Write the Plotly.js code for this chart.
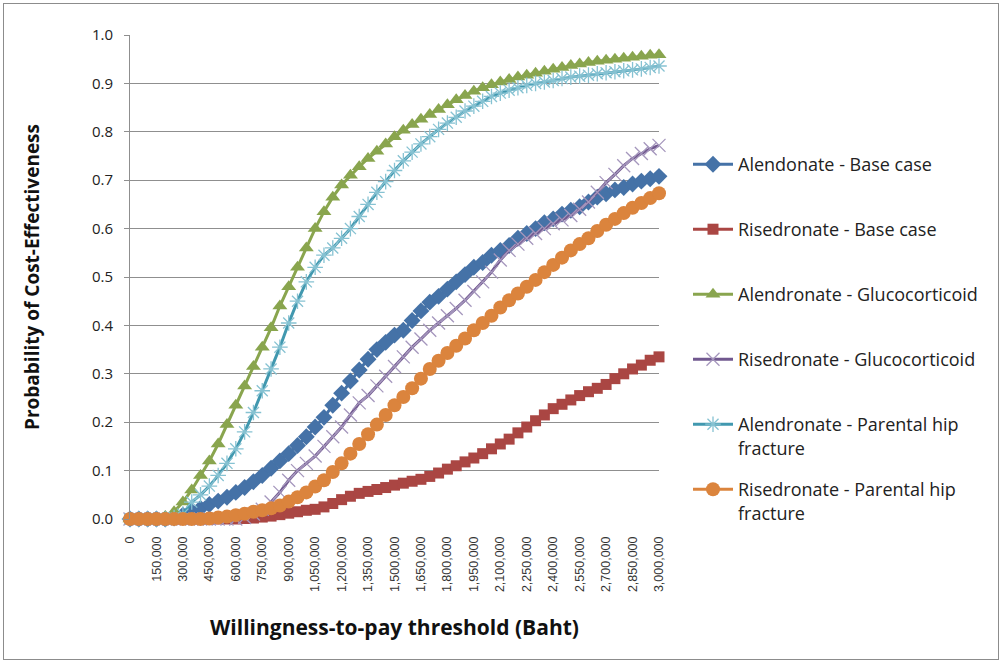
<!DOCTYPE html>
<html>
<head>
<meta charset="utf-8">
<script src="https://cdn.plot.ly/plotly-3.0.1.min.js"></script>
<style>
  body { margin: 0; background: #fff; }
  #wrap { position: relative; width: 1002px; height: 663px; }
  #chart { width: 1002px; height: 663px; }
  #frame { position: absolute; left: 3px; top: 3px; width: 994px; height: 655px; border: 1px solid #8c8c8c; pointer-events: none; }
</style>
</head>
<body>
<div id="wrap"><div id="chart"></div><div id="frame"></div></div>
<script>
// Willingness-to-pay thresholds (Baht), step 50,000
const thresholds = [];
for (let k = 0; k <= 60; k++) thresholds.push(k * 50000);

const tickValues = [0,150000,300000,450000,600000,750000,900000,1050000,1200000,1350000,1500000,1650000,1800000,1950000,2100000,2250000,2400000,2550000,2700000,2850000,3000000];
const tickLabels = ["0","150,000","300,000","450,000","600,000","750,000","900,000","1,050,000","1,200,000","1,350,000","1,500,000","1,650,000","1,800,000","1,950,000","2,100,000","2,250,000","2,400,000","2,550,000","2,700,000","2,850,000","3,000,000"];
const yTicks = [0,0.1,0.2,0.3,0.4,0.5,0.6,0.7,0.8,0.9,1.0];

const seriesNames = [
  "Alendonate - Base case",
  "Risedronate - Base case",
  "Alendronate - Glucocorticoid",
  "Risedronate - Glucocorticoid",
  "Alendronate - Parental hip<br>fracture",
  "Risedronate - Parental hip<br>fracture"
];

const alendronateBase = [0,0,0,0,0,0.002,0.008,0.015,0.022,0.03,0.037,0.045,0.055,0.065,0.077,0.09,0.105,0.12,0.135,0.152,0.17,0.19,0.21,0.235,0.26,0.285,0.308,0.33,0.35,0.365,0.38,0.39,0.41,0.43,0.448,0.46,0.475,0.49,0.505,0.52,0.53,0.545,0.555,0.565,0.58,0.59,0.6,0.612,0.62,0.63,0.638,0.645,0.655,0.665,0.672,0.68,0.685,0.692,0.698,0.703,0.708];

const risedronateBase = [0,0,0,0,0,0,0,0,0,0,0,0,0,0.001,0.002,0.004,0.006,0.009,0.012,0.015,0.018,0.02,0.025,0.032,0.04,0.047,0.053,0.057,0.061,0.065,0.07,0.074,0.078,0.082,0.088,0.095,0.103,0.11,0.118,0.126,0.135,0.145,0.155,0.165,0.178,0.19,0.203,0.215,0.228,0.237,0.246,0.255,0.263,0.27,0.278,0.29,0.3,0.31,0.318,0.328,0.335];

const alendronateGluco = [0,0,0,0,0.005,0.015,0.035,0.06,0.09,0.12,0.155,0.195,0.235,0.275,0.315,0.355,0.395,0.44,0.48,0.52,0.56,0.6,0.635,0.665,0.69,0.71,0.728,0.745,0.76,0.775,0.79,0.803,0.815,0.826,0.836,0.846,0.856,0.866,0.875,0.884,0.891,0.897,0.903,0.908,0.913,0.917,0.921,0.925,0.929,0.933,0.937,0.94,0.943,0.946,0.948,0.95,0.952,0.954,0.956,0.958,0.959];

const risedronateGluco = [0,0,0,0,0,0,0,0,0,0,0,0,0,0.003,0.01,0.02,0.035,0.055,0.08,0.1,0.115,0.13,0.15,0.17,0.19,0.215,0.24,0.255,0.275,0.295,0.315,0.335,0.355,0.372,0.39,0.405,0.42,0.435,0.452,0.47,0.49,0.51,0.535,0.555,0.568,0.58,0.59,0.6,0.61,0.618,0.627,0.64,0.655,0.675,0.695,0.712,0.73,0.745,0.755,0.765,0.772];

const alendronateHip = [0,0,0,0,0,0.003,0.01,0.035,0.05,0.068,0.09,0.115,0.145,0.18,0.22,0.265,0.31,0.355,0.405,0.45,0.49,0.52,0.545,0.56,0.58,0.6,0.625,0.65,0.675,0.697,0.72,0.74,0.758,0.775,0.79,0.805,0.818,0.83,0.843,0.853,0.863,0.873,0.88,0.886,0.891,0.896,0.9,0.903,0.906,0.91,0.913,0.915,0.917,0.92,0.922,0.924,0.926,0.928,0.93,0.933,0.936];

const risedronateHip = [0,0,0,0,0,0,0,0,0,0.001,0.003,0.005,0.008,0.011,0.015,0.018,0.022,0.028,0.036,0.045,0.055,0.067,0.08,0.097,0.115,0.135,0.155,0.175,0.195,0.215,0.235,0.252,0.27,0.29,0.31,0.327,0.343,0.358,0.373,0.39,0.405,0.42,0.437,0.452,0.466,0.48,0.494,0.51,0.525,0.54,0.555,0.568,0.58,0.595,0.608,0.62,0.632,0.643,0.653,0.663,0.673];

const seriesValues = [alendronateBase, risedronateBase, alendronateGluco, risedronateGluco, alendronateHip, risedronateHip];

const styles = [
  {line: '#4572A7', marker: {symbol: 'diamond', size: 13, color: '#4572A7'}},
  {line: '#AA4643', marker: {symbol: 'square', size: 11, color: '#AA4643'}},
  {line: '#89A54E', marker: {symbol: 'triangle-up', size: 13, color: '#89A54E'}},
  {line: '#71588F', marker: {symbol: 'x-thin-open', size: 13, color: '#A597BD', line: {width: 1.3, color: '#A597BD'}}},
  {line: '#4198AF', marker: {symbol: 'asterisk-open', size: 13, color: '#86C2D2', line: {width: 1.3, color: '#86C2D2'}}},
  {line: '#DB843D', marker: {symbol: 'circle', size: 14, color: '#DB843D'}}
];

// plot area in pixels
const plotTop = 35, plotBottom = 519;
function pyToPaper(py) { return 1 - (py - plotTop) / (plotBottom - plotTop); }
const legendTops = [146, 211, 276, 341, 406, 471];

const traces = seriesValues.map((vals, i) => ({
  type: 'scatter',
  mode: 'lines+markers',
  x: thresholds,
  y: vals,
  name: seriesNames[i],
  line: {color: styles[i].line, width: 3},
  marker: styles[i].marker,
  legend: i === 0 ? 'legend' : 'legend' + (i + 1),
  cliponaxis: false
}));

const baseFont = '"Open Sans", Lato, sans-serif';

const layout = {
  width: 1002,
  height: 663,
  paper_bgcolor: '#ffffff',
  plot_bgcolor: '#ffffff',
  margin: {l: 130, r: 343, t: 35, b: 144},
  showlegend: true,
  font: {family: baseFont, color: '#222'},
  xaxis: {
    type: 'linear',
    range: [0, 3000000],
    tickvals: tickValues,
    ticktext: tickLabels,
    tickangle: -90,
    tickfont: {size: 12.5, color: '#333', family: '"Liberation Sans Narrow", "Liberation Sans", sans-serif'},
    showgrid: false,
    zeroline: false,
    showline: false,
    ticks: '',
    ticklabelstandoff: 14,
    title: {text: '<b>Willingness-to-pay threshold (Baht)</b>', font: {size: 21, color: '#111', family: baseFont}, standoff: 29},
    automargin: false
  },
  yaxis: {
    range: [0, 1.0],
    tickvals: yTicks,
    tickformat: '.1f',
    tickfont: {size: 15, color: '#222', family: baseFont},
    showgrid: true,
    gridcolor: '#8f8f8f',
    gridwidth: 1,
    zeroline: false,
    showline: true,
    linecolor: '#8f8f8f',
    linewidth: 1,
    ticks: 'outside',
    ticklen: 5,
    tickcolor: '#8f8f8f',
    ticklabelstandoff: 8,
    title: {text: '<b>Probability of Cost-Effectiveness</b>', font: {size: 19, color: '#111', family: baseFont}, standoff: 47},
    automargin: false
  }
};

for (let i = 0; i < 6; i++) {
  const key = i === 0 ? 'legend' : 'legend' + (i + 1);
  layout[key] = {
    x: (688 - 130) / 529,
    y: pyToPaper(legendTops[i]),
    xanchor: 'left',
    yanchor: 'top',
    valign: 'top',
    bgcolor: 'rgba(0,0,0,0)',
    borderwidth: 0,
    font: {size: 18, color: '#222', family: baseFont},
    itemwidth: 40
  };
}

Plotly.newPlot('chart', traces, layout, {displayModeBar: false, staticPlot: true});
</script>
</body>
</html>
